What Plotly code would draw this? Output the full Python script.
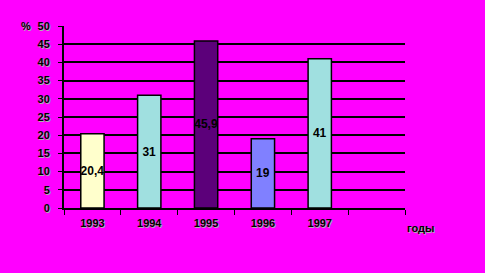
import plotly.graph_objects as go

years = ["1993", "1994", "1995", "1996", "1997"]
values = [20.4, 31, 45.9, 19, 41]
labels = ["20,4", "31", "45,9", "19", "41"]
bar_colors = ["#FFFFCC", "#A0E0E0", "#5C007A", "#8080FF", "#A0E0E0"]
y_ticks = [0, 5, 10, 15, 20, 25, 30, 35, 40, 45, 50]

BG = "#FF00FF"
FONT = "Liberation Sans, Arial, sans-serif"
SHADOW = "1px 1px 0px #b0b0b0"

fig = go.Figure()
fig.add_trace(go.Bar(
    x=years, y=values,
    marker=dict(color=bar_colors, line=dict(color="black", width=1.5)),
    width=0.41,
    text=labels, textposition="inside", insidetextanchor="middle",
    textangle=0,
    textfont=dict(family=FONT, size=12, color="black", weight="bold"),
    hoverinfo="skip",
))

fig.update_layout(
    width=485, height=273,
    paper_bgcolor=BG, plot_bgcolor=BG,
    margin=dict(l=64, r=80, t=26, b=65),
    showlegend=False,
    uniformtext=dict(minsize=12, mode="show"),
    font=dict(family=FONT, color="black"),
)
fig.update_xaxes(
    type="category", categoryorder="array", categoryarray=years + [" "],
    range=[-0.5, 5.5],
    tickson="boundaries", ticks="outside", ticklen=5, tickwidth=1, tickcolor="black",
    showline=True, linecolor="black", linewidth=2,
    showgrid=False,
    ticklabelstandoff=4,
    tickfont=dict(family=FONT, size=11, color="black", weight="bold", shadow=SHADOW),
)
fig.update_yaxes(
    range=[0, 50], tickvals=y_ticks,
    ticks="outside", ticklen=4, tickwidth=1, tickcolor="black",
    showline=True, linecolor="black", linewidth=2,
    showgrid=True, gridcolor="black", gridwidth=1.5,
    zeroline=False,
    ticklabelstandoff=6,
    tickfont=dict(family=FONT, size=11, color="black", weight="bold", shadow=SHADOW),
)
fig.add_annotation(text="%", xref="paper", yref="paper", x=-0.09, y=1.0,
                   xanchor="right", yanchor="middle", showarrow=False,
                   font=dict(family=FONT, size=11, color="black", weight="bold", shadow=SHADOW))
fig.add_annotation(text="годы", xref="paper", yref="paper", x=1.0, y=-0.11,
                   xanchor="left", yanchor="middle", showarrow=False,
                   font=dict(family=FONT, size=11, color="black", weight="bold", shadow=SHADOW))

fig.write_html("out.html")
